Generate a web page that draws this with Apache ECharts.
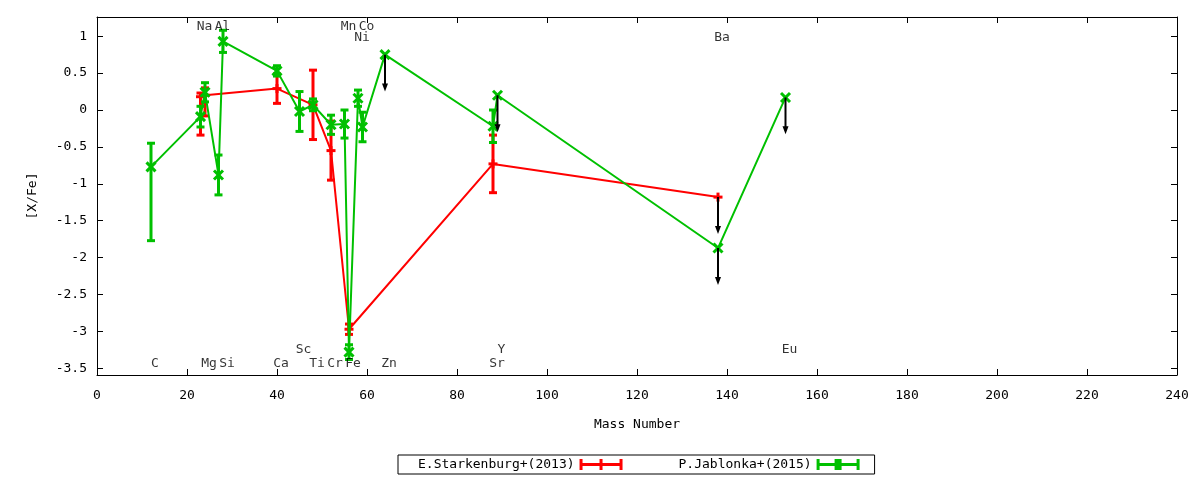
<!DOCTYPE html>
<html>
<head>
<meta charset="utf-8">
<script src="https://cdn.jsdelivr.net/npm/echarts@6/dist/echarts.min.js"></script>
<style>
  html, body { margin: 0; padding: 0; background: #fff; }
  #chart { width: 1200px; height: 480px; }
</style>
</head>
<body>
<div id="chart"></div>
<script>
// ---- data ----
const redName = 'E.Starkenburg+(2013)';
const redMass  = [23, 24, 40, 48, 52, 56, 88, 138];
const redValue = [0.18, 0.20, 0.29, 0.07, -0.55, -2.97, -0.73, -1.18];
const redLow   = [-0.34, -0.08, 0.09, -0.40, -0.95, -3.04, -1.12, -1.18];
const redHigh  = [0.23, 0.30, 0.49, 0.54, -0.15, -2.90, -0.34, -1.18];
const redLimit = [0, 0, 0, 0, 0, 0, 0, 1];

const greenName = 'P.Jablonka+(2015)';
const greenMass  = [12, 23, 24, 27, 28, 40, 45, 48, 52, 55, 56, 58, 59, 64, 88, 89, 138, 153];
const greenValue = [-0.77, -0.09, 0.24, -0.88, 0.93, 0.53, -0.02, 0.07, -0.20, -0.19, -3.28, 0.16, -0.23, 0.75, -0.22, 0.20, -1.87, 0.17];
const greenLow   = [-1.77, -0.23, 0.11, -1.15, 0.78, 0.46, -0.29, -0.01, -0.33, -0.38, -3.38, 0.05, -0.43, 0.75, -0.44, 0.20, -1.87, 0.17];
const greenHigh  = [-0.45, 0.05, 0.37, -0.61, 1.08, 0.60, 0.25, 0.15, -0.07, 0.00, -3.18, 0.27, -0.03, 0.75, 0.00, 0.20, -1.87, 0.17];
const greenLimit = [0, 0, 0, 0, 0, 0, 0, 0, 0, 0, 0, 0, 0, 1, 0, 1, 1, 1];

const limitArrowLength = 0.5;

const elemNames = ['C', 'Na', 'Mg', 'Al', 'Si', 'Ca', 'Sc', 'Ti', 'Cr', 'Mn', 'Fe', 'Co', 'Ni', 'Zn', 'Sr', 'Y', 'Ba', 'Eu'];
const elemMass  = [12, 23, 24, 27, 28, 40, 45, 48, 52, 55, 56, 59, 58, 64, 88, 89, 138, 153];
const elemRow   = [3, 0, 3, 0, 3, 3, 2, 3, 3, 0, 3, 0, 1, 3, 3, 2, 1, 2];
const rowLevels = [1.13, 0.985, -3.245, -3.43];

const yTicks = [-3.5, -3, -2.5, -2, -1.5, -1, -0.5, 0, 0.5, 1];

// ---- helpers ----
const FONT = 'DejaVu Sans Mono';
const RED = '#ff0000';
const GREEN = '#00c000';

function errRender(color, marker) {
  return function (params, api) {
    const m = api.value(0), v = api.value(1), lo = api.value(2), hi = api.value(3);
    const c = api.coord([m, v]);
    const cl = api.coord([m, lo]);
    const ch = api.coord([m, hi]);
    const st = { stroke: color, lineWidth: 3 };
    const kids = [];
    const cw = 4;
    if (hi > lo) {
      kids.push({ type: 'line', shape: { x1: c[0], y1: cl[1], x2: c[0], y2: ch[1] }, style: st });
      kids.push({ type: 'line', shape: { x1: c[0] - cw, y1: cl[1], x2: c[0] + cw, y2: cl[1] }, style: st });
      kids.push({ type: 'line', shape: { x1: c[0] - cw, y1: ch[1], x2: c[0] + cw, y2: ch[1] }, style: st });
    }
    const s = 4.5;
    if (marker === 'x') {
      kids.push({ type: 'line', shape: { x1: c[0] - s, y1: c[1] - s, x2: c[0] + s, y2: c[1] + s }, style: st });
      kids.push({ type: 'line', shape: { x1: c[0] - s, y1: c[1] + s, x2: c[0] + s, y2: c[1] - s }, style: st });
    } else {
      kids.push({ type: 'line', shape: { x1: c[0] - s, y1: c[1], x2: c[0] + s, y2: c[1] }, style: st });
      kids.push({ type: 'line', shape: { x1: c[0], y1: c[1] - s, x2: c[0], y2: c[1] + s }, style: st });
    }
    return { type: 'group', children: kids };
  };
}

function arrowRender(params, api) {
  const m = api.value(0), v = api.value(1);
  const a = api.coord([m, v]);
  const b = api.coord([m, v - limitArrowLength]);
  return {
    type: 'group',
    children: [
      { type: 'line', shape: { x1: a[0], y1: a[1], x2: b[0], y2: b[1] - 4 }, style: { stroke: '#000', lineWidth: 2 } },
      { type: 'polygon', shape: { points: [[b[0] - 3, b[1] - 8], [b[0] + 3, b[1] - 8], [b[0], b[1]]] }, style: { fill: '#000' } }
    ]
  };
}

function errData(mass, val, lo, hi) {
  return mass.map((m, i) => [m, val[i], lo[i], hi[i]]);
}
function lineData(mass, val) {
  return mass.map((m, i) => [m, val[i]]);
}
function limitData(mass, val, lim) {
  const out = [];
  mass.forEach((m, i) => { if (lim[i]) out.push([m, val[i]]); });
  return out;
}

const redIcon = 'path://M0 4H43V7H0Z M0 0H3V11H0Z M40 0H43V11H40Z M20 0H23V11H20Z';
const greenIcon = 'path://M0 4H43V7H0Z M0 0H3V11H0Z M40 0H43V11H40Z M18 0H25V11H18Z';

const axisCommon = {
  axisLine: { show: true, onZero: false, lineStyle: { color: '#000', width: 1 } },
  splitLine: { show: false },
};

const option = {
  animation: false,
  backgroundColor: '#fff',
  textStyle: { fontFamily: FONT },
  grid: { left: 97, right: 23, top: 17, bottom: 105 },
  legend: {
    left: 398, top: 455,
    padding: [3, 15, 3, 20],
    itemGap: 56,
    itemWidth: 43, itemHeight: 11,
    align: 'right',
    borderColor: '#000', borderWidth: 1, borderRadius: 0,
    textStyle: { fontFamily: FONT, fontSize: 13, color: '#000' },
    selectedMode: false,
    data: [
      { name: redName, icon: redIcon, itemStyle: { color: RED } },
      { name: greenName, icon: greenIcon, itemStyle: { color: GREEN } }
    ]
  },
  xAxis: [
    Object.assign({
      type: 'value', min: 0, max: 240, interval: 20, position: 'bottom',
      name: 'Mass Number', nameLocation: 'middle', nameGap: 43,
      nameTextStyle: { fontFamily: FONT, fontSize: 13, color: '#000' },
      axisTick: { show: true, inside: true, length: 6, lineStyle: { color: '#000' } },
      axisLabel: { fontFamily: FONT, fontSize: 13, color: '#000', margin: 14 }
    }, axisCommon),
    Object.assign({
      type: 'value', min: 0, max: 240, interval: 20, position: 'top',
      axisTick: { show: true, inside: true, length: 6, lineStyle: { color: '#000' } },
      axisLabel: { show: false }
    }, axisCommon)
  ],
  yAxis: [
    Object.assign({
      type: 'value', min: -3.59, max: 1.26, position: 'left',
      name: '[X/Fe]', nameLocation: 'middle', nameGap: 58, nameRotate: 90,
      nameTextStyle: { fontFamily: FONT, fontSize: 13, color: '#000' },
      axisTick: { show: true, inside: true, length: 6, customValues: yTicks, lineStyle: { color: '#000' } },
      axisLabel: { fontFamily: FONT, fontSize: 13, color: '#000', margin: 10, customValues: yTicks }
    }, axisCommon),
    Object.assign({
      type: 'value', min: -3.59, max: 1.26, position: 'right',
      axisTick: { show: true, inside: true, length: 6, customValues: yTicks, lineStyle: { color: '#000' } },
      axisLabel: { show: false, customValues: yTicks }
    }, axisCommon)
  ],
  series: [
    {
      name: redName, type: 'line', data: lineData(redMass, redValue),
      symbol: 'none', itemStyle: { color: RED },
      lineStyle: { color: RED, width: 2 }, z: 2, silent: true
    },
    {
      name: redName, type: 'custom', data: errData(redMass, redValue, redLow, redHigh),
      renderItem: errRender(RED, '+'), itemStyle: { color: RED }, z: 3, silent: true
    },
    {
      name: greenName, type: 'line', data: lineData(greenMass, greenValue),
      symbol: 'none', itemStyle: { color: GREEN },
      lineStyle: { color: GREEN, width: 2 }, z: 4, silent: true
    },
    {
      name: greenName, type: 'custom', data: errData(greenMass, greenValue, greenLow, greenHigh),
      renderItem: errRender(GREEN, 'x'), itemStyle: { color: GREEN }, z: 5, silent: true
    },
    {
      name: 'limits-red', type: 'custom', data: limitData(redMass, redValue, redLimit),
      renderItem: arrowRender, z: 6, silent: true
    },
    {
      name: 'limits-green', type: 'custom', data: limitData(greenMass, greenValue, greenLimit),
      renderItem: arrowRender, z: 6, silent: true
    },
    {
      name: 'elements', type: 'scatter', symbolSize: 0, silent: true, z: 7,
      data: elemNames.map((n, i) => ({ name: n, value: [elemMass[i], rowLevels[elemRow[i]]] })),
      label: {
        show: true, position: 'inside', offset: [4, 0],
        formatter: p => p.name,
        fontFamily: FONT, fontSize: 13, color: '#000'
      }
    }
  ]
};

const chart = echarts.init(document.getElementById('chart'), null, { renderer: 'canvas' });
chart.setOption(option);
</script>
</body>
</html>
